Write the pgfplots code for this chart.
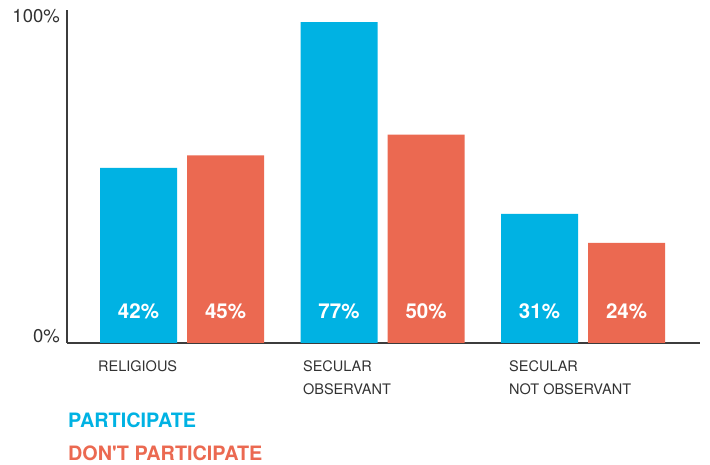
\documentclass[border=0pt]{standalone}
\usepackage{pgfplots}
\pgfplotsset{compat=1.18}
\usepackage{fontspec}
\setmainfont{TeX Gyre Heros}
\definecolor{partblue}{RGB}{0,178,227}
\definecolor{nopartred}{RGB}{235,105,81}
\definecolor{axisgray}{RGB}{60,60,60}
\definecolor{labelgray}{RGB}{50,50,50}
\begin{document}
\begin{tikzpicture}
\useasboundingbox (0,0) rectangle (710pt,465pt);
\begin{axis}[
    at={(67pt,122pt)}, anchor=south west,
    scale only axis,
    width=633pt, height=333pt,
    xmin=-0.5736, xmax=2.5835,
    ymin=0, ymax=79.88,
    axis x line*=bottom,
    axis y line*=left,
    axis line style={axisgray, line width=1.4pt, -},
    major tick length=0pt,
    ytick={0,77},
    yticklabels={0\%,100\%},
    xtick={-0.419,0.603,1.631},
    xticklabels={RELIGIOUS, SECULAR\\OBSERVANT, SECULAR\\NOT OBSERVANT},
    /pgf/number format/assume math mode=true,
    xticklabel style={anchor=north west, align=left, inner sep=0pt,
        yshift=-17pt, text=labelgray,
        font=\fontsize{14.5}{23}\selectfont},
    yticklabel style={anchor=base east, inner sep=0pt, xshift=-7pt,
        text=labelgray, font=\fontsize{18.5}{20}\selectfont},
    clip=false,
]
% participate
\addplot[ybar, bar width=77pt, bar shift=-43.5pt, fill=partblue, draw=none]
    coordinates {(0,42)(1,77)(2,31)};
% don't participate
\addplot[ybar, bar width=77pt, bar shift=43.5pt, fill=nopartred, draw=none]
    coordinates {(0,45)(1,50)(2,24)};
% value labels at the bottom of each bar
\addplot[draw=none, mark=none, point meta=explicit,
    nodes near coords={\pgfmathprintnumber{\pgfplotspointmeta}\%},
    every node near coord/.style={anchor=base, yshift=24pt, inner sep=0pt,
        text=white, font=\bfseries\fontsize{20.5}{22}\selectfont}]
    coordinates {(-0.217,0)[42] (0.217,0)[45] (0.783,0)[77] (1.217,0)[50] (1.783,0)[31] (2.217,0)[24]};
\end{axis}
\node[anchor=base west, inner sep=0pt, text=partblue,
    font=\bfseries\fontsize{19.8}{20}\selectfont] at (68pt,37pt) {PARTICIPATE};
\node[anchor=base west, inner sep=0pt, text=nopartred,
    font=\bfseries\fontsize{19.8}{20}\selectfont] at (68pt,4pt) {DON\textquotesingle T PARTICIPATE};
\end{tikzpicture}
\end{document}
